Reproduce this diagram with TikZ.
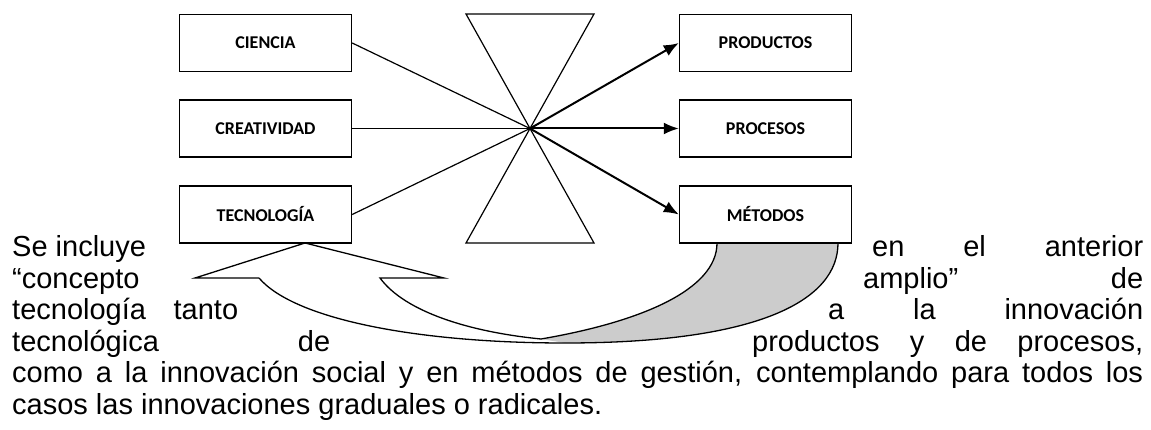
\documentclass[tikz,border=0pt]{standalone}
\usepackage{fontspec}
\setmainfont{Liberation Sans}
\newfontfamily\boxfont{Carlito}
\usetikzlibrary{arrows.meta}
\definecolor{backgray}{RGB}{204,204,204}
\tikzset{
  concept/.style={draw, line width=1.4pt, minimum width=172pt, minimum height=57pt,
    inner sep=0pt, font=\boxfont\bfseries\fontsize{18}{20}\selectfont},
  feed/.style={line width=1.2pt},
  yield/.style={line width=2pt, -{Latex[length=15pt,width=12pt]}},
  band/.style={line width=1.3pt, line join=miter},
  words/.style={anchor=base west, inner sep=0pt, font=\fontsize{29}{31}\selectfont}
}
\begin{document}
\begin{tikzpicture}[x=1pt, y=-1pt]
    \useasboundingbox (0, 0) rectangle (1151, 430);

    % curved arrow back part
    \coordinate (tip) at (305, 243);
    \coordinate (barbL) at (195, 278);
    \coordinate (shaftL) at (259, 278);
    \coordinate (shaftR) at (380, 278);
    \coordinate (barbR) at (444, 278);
    \coordinate (meet) at (541, 339);
    \coordinate (low) at (565, 343);
    \coordinate (backL) at (717, 243);
    \coordinate (backR) at (838, 243);
    \fill[backgray] (meet) .. controls (640, 322) and (717, 290) .. (backL) -- (backR)
      .. controls (838, 300) and (760, 343) .. (low) -- (meet) -- cycle;
    \draw[band] (shaftL) -- (barbL) -- (tip) -- (barbR) -- (shaftR)
      .. controls (405, 312) and (470, 332) .. (meet)
      .. controls (640, 322) and (717, 290) .. (backL);
    \draw[band] (shaftL) .. controls (295, 320) and (420, 343) .. (low)
      .. controls (760, 343) and (838, 300) .. (backR);

    % hourglass
    \coordinate (hub) at (530, 128.5);
    \coordinate (topL) at (466, 14);
    \coordinate (topR) at (594, 14);
    \coordinate (botL) at (466, 243);
    \coordinate (botR) at (594, 243);
    \draw[feed] (topL) -- (topR) -- (hub) -- cycle;
    \draw[feed] (botL) -- (botR) -- (hub) -- cycle;

    \node[concept, fill=white] (ciencia) at (265.5, 43) {CIENCIA};
    \node[concept, fill=white] (creat) at (265.5, 128.5) {CREATIVIDAD};
    \node[concept, fill=white] (tecno) at (265.5, 214.5) {TECNOLOGÍA};
    \node[concept, fill=white] (prod) at (765.5, 43) {PRODUCTOS};
    \node[concept, fill=white] (proc) at (765.5, 128.5) {PROCESOS};
    \node[concept, fill=white] (metod) at (765.5, 214.5) {MÉTODOS};

    \draw[feed] (ciencia.east) -- (hub);
    \draw[feed] (creat.east) -- (hub);
    \draw[feed] (tecno.east) -- (hub);
    \draw[yield] (hub) -- (prod.west);
    \draw[yield] (hub) -- (proc.west);
    \draw[yield] (hub) -- (metod.west);

    % text around the figure
    \node[words] (l1a) at (12, 257) {Se incluye};
    \node[words] (l1b) at (872, 257) {\makebox[271pt][s]{en el anterior}};
    \node[words] (l2a) at (12, 288.4) {“concepto};
    \node[words] (l2b) at (863, 288.4) {\makebox[280pt][s]{amplio” de}};
    \node[words] (l3a) at (12, 319.8) {\makebox[226pt][s]{tecnología tanto}};
    \node[words] (l3b) at (828, 319.8) {\makebox[315pt][s]{a la innovación}};
    \node[words] (l4a) at (12, 351.2) {\makebox[318pt][s]{tecnológica de}};
    \node[words] (l4b) at (752, 351.2) {\makebox[391pt][s]{productos y de procesos,}};
    \node[words] (l5) at (12, 382.6) {\makebox[1131pt][s]{como a la innovación social y en métodos de gestión, contemplando para todos los}};
    \node[words] (l6) at (12, 414) {casos las innovaciones graduales o radicales.};
\end{tikzpicture}
\end{document}
